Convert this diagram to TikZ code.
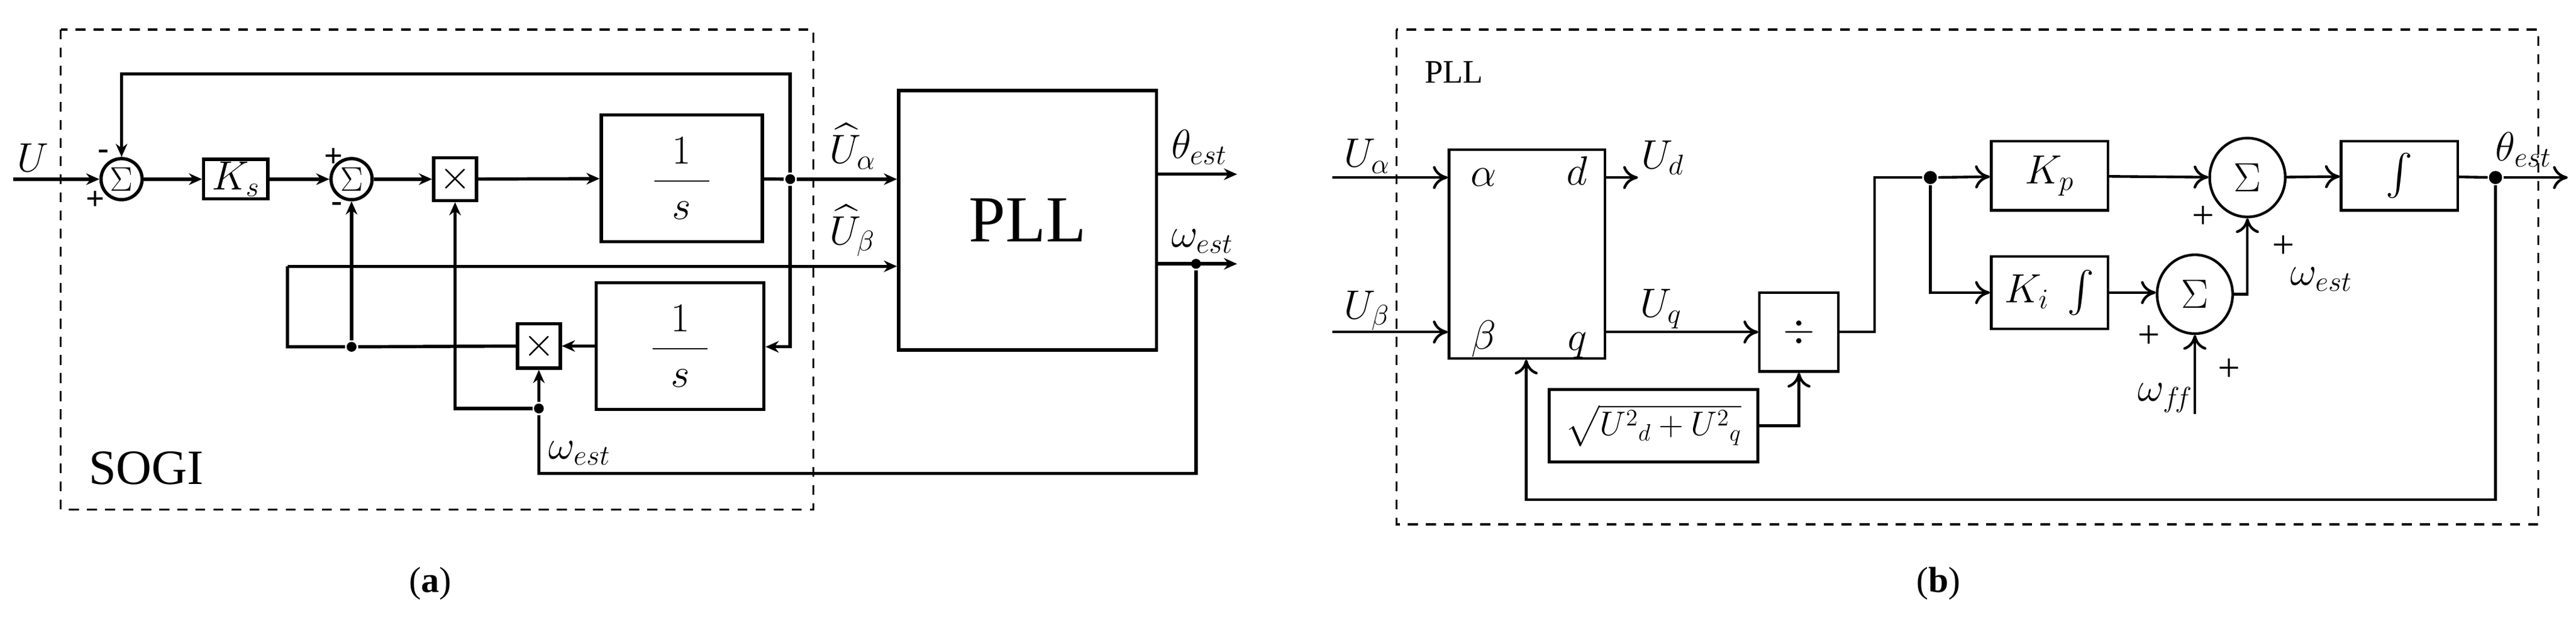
\documentclass[tikz,border=0pt]{standalone}
\usepackage{amsmath}
\usepackage{fontspec}
\setmainfont{Liberation Serif}
\usetikzlibrary{arrows.meta,shapes.geometric}
\tikzset{every picture/.style={line width=2pt}}
\tikzset{
  blk/.style={draw,rectangle,inner sep=0pt,minimum width=#1},
  sumL/.style={draw,circle,inner sep=0pt,minimum size=25pt,font=\fontsize{20}{20}\selectfont},
  sumR/.style={draw,ellipse,inner sep=0pt,minimum width=46pt,minimum height=48pt,font=\fontsize{34}{34}\selectfont},
  lbl/.style={inner sep=0pt,font=\fontsize{24}{28}\selectfont},
  sgn/.style={inner sep=0pt,font=\fontsize{20}{20}\selectfont\bfseries},
  dot/.style={circle,fill,inner sep=0pt,minimum size=6pt},
  fa/.style={-{Stealth[length=8pt,width=7pt]}},
  oa/.style={-{To[length=9pt,width=14pt,line width=1.6pt]}},
}
\begin{document}
\begin{tikzpicture}[x=1pt,y=1pt,yscale=-1,xscale=1]
    \useasboundingbox (0,0) rectangle (1568,383);

    %Shape: dashed frames
    \draw [dashed,line width=1.2pt,dash pattern=on 6pt off 5pt] (37,18) rectangle (495,310);
    \draw [dashed,line width=1.2pt,dash pattern=on 6pt off 5pt] (850,18) rectangle (1545,319);

    % ---------- (a) SOGI ----------
    \coordinate (uin) at (8,109);
    \node [sumL] (s1) at (74,109) {$\Sigma$};
    \node [blk=39pt,minimum height=24pt,lbl] (ks) at (143.5,109) {$K_s$};
    \node [sumL] (s2) at (214,109) {$\Sigma$};
    \node [blk=26pt,minimum height=26pt,font=\fontsize{24}{24}\selectfont] (m1) at (277,109) {$\times$};
    \node [blk=98pt,minimum height=77pt,lbl] (i1) at (415,108.5) {$\dfrac{1}{\;\,s\;\,}$};
    \node [blk=102pt,minimum height=77pt,lbl] (i2) at (414,210.5) {$\dfrac{1}{\;\,s\;\,}$};
    \node [blk=26pt,minimum height=27pt,font=\fontsize{24}{24}\selectfont] (m2) at (328,210.5) {$\times$};
    \node [blk=157pt,minimum height=158pt,font=\fontsize{40}{40}\selectfont] (pll) at (625.5,134) {PLL};
    \node [dot] (j1) at (481,109) {};
    \node [dot] (j2) at (214,211) {};
    \node [dot] (j3) at (328,248.5) {};
    \node [dot] (j4) at (728,160.5) {};
    \coordinate (th) at (753,106);
    \coordinate (om) at (753,160.5);

    %Straight Lines
    \draw [fa] (uin) -- (s1);
    \draw [fa] (s1) -- (ks);
    \draw [fa] (ks) -- (s2);
    \draw [fa] (s2) -- (m1);
    \draw [fa] (m1) -- (i1);
    \draw (i1) -- (j1);
    \draw [fa] (j1) -- (pll.west |- j1);
    \draw [fa] (j1) -- (481,45) -- (74,45) -- (s1.north);
    \draw [fa] (j1) -- (481,211) -- (i2.east |- 0,211);
    \draw [fa] (i2) -- (m2);
    \draw (m2) -- (j2) -- (175,211) -- (175,162);
    \draw [fa] (175,162) -- (pll.west |- 0,162);
    \draw [fa] (j2) -- (s2.south);
    \draw [fa] (j3) -- (277,248.5) -- (m1.south);
    \draw [fa] (j3) -- (m2.south);
    \draw (j3) -- (328,288) -- (728,288) -- (j4);
    \draw [fa] (pll.east |- th) -- (th);
    \draw [fa] (pll.east |- om) -- (om);

    % Text Node
    \node [lbl] at (20,96) {$U$};
    \node [sgn] at (63,94) {-};
    \node [sgn] at (58,122) {+};
    \node [sgn] at (203,96) {+};
    \node [sgn] at (205,126) {-};
    \node [lbl,anchor=south west] at (504,104) {$\widehat{U}_{\alpha}$};
    \node [lbl,anchor=south west] at (504,157) {$\widehat{U}_{\beta}$};
    \node [lbl,anchor=south west] at (712,101) {$\theta_{est}$};
    \node [lbl,anchor=south west] at (712,155) {$\omega_{est}$};
    \node [lbl,anchor=south west] at (333,284) {$\omega_{est}$};
    \node [inner sep=0pt,font=\fontsize{30}{30}\selectfont] at (89,285) {SOGI};

    % ---------- (b) PLL ----------
    \tikzset{every path/.style={line width=1.6pt}}
    \node [blk=95pt,minimum height=127pt] (park) at (929.5,154.5) {};
    \node [blk=48pt,minimum height=48pt] (div) at (1095,202) {};
    \node [blk=127pt,minimum height=44pt,font=\fontsize{22}{24}\selectfont] (sq) at (1006.5,259) {$\sqrt{U^2{}_d+U^2{}_q}$};
    \node [blk=71pt,minimum height=42pt,lbl] (kp) at (1247.5,107) {$K_p$};
    \node [blk=71pt,minimum height=44pt,lbl] (ki) at (1247.5,178) {$K_i\;\int$};
    \node [sumR] (s3) at (1368,108) {$\Sigma$};
    \node [sumR] (s4) at (1336,179) {$\Sigma$};
    \node [blk=71pt,minimum height=42pt,lbl] (int) at (1460.5,107) {$\int$};
    \node [dot,minimum size=8pt] (j5) at (1175,108) {};
    \node [dot,minimum size=8pt] (j6) at (1519,108) {};
    \coordinate (ua) at (811,108);
    \coordinate (ub) at (811,202);
    \coordinate (ud) at (997,108);
    \coordinate (th2) at (1563,108);
    \coordinate (wff) at (1336,252);

    %Straight Lines
    \draw [oa] (ua) -- (park.west |- ua);
    \draw [oa] (ub) -- (park.west |- ub);
    \draw [oa] (park.east |- ud) -- (ud);
    \draw [oa] (park.east |- div) -- (div);
    \draw [oa] (sq.east) -- (div.south |- sq.east) -- (div.south);
    \draw (div) -- (1141,202) -- (1141,108) -- (j5);
    \draw [oa] (j5) -- (kp);
    \draw [oa] (j5) -- (j5 |- ki) -- (ki);
    \draw [oa] (kp) -- (s3);
    \draw [oa] (ki) -- (s4.west |- ki);
    \draw [oa] (s4.east) -- (s3.south |- s4.east) -- (s3.south);
    \draw [oa] (wff) -- (s4.south);
    \draw [oa] (s3) -- (int);
    \draw (int) -- (j6);
    \draw [oa] (j6) -- (th2);
    \draw [oa] (j6) -- (1519,304) -- (929,304) -- (park.south -| 929,0);

    % Text Node
    \node [inner sep=0pt,font=\fontsize{20}{20}\selectfont] at (885,44) {PLL};
    \node [lbl] at (832,95) {$U_{\alpha}$};
    \node [lbl] at (832,189) {$U_{\beta}$};
    \node [inner sep=0pt,font=\fontsize{32}{32}\selectfont] at (903,108) {$\alpha$};
    \node [inner sep=0pt,font=\fontsize{32}{32}\selectfont] at (960,104) {$d$};
    \node [inner sep=0pt,font=\fontsize{32}{32}\selectfont] at (903,206) {$\beta$};
    \node [inner sep=0pt,font=\fontsize{32}{32}\selectfont] at (960,210) {$q$};
    \node [lbl] at (1012,96) {$U_d$};
    \node [lbl] at (1011,188) {$U_q$};
    \node [inner sep=0pt,font=\fontsize{30}{30}\selectfont] at (div) {$\div$};
    \node [sgn,font=\fontsize{24}{24}\selectfont] at (1341,132) {+};
    \node [sgn,font=\fontsize{24}{24}\selectfont] at (1390,150) {+};
    \node [sgn,font=\fontsize{24}{24}\selectfont] at (1308,205) {+};
    \node [sgn,font=\fontsize{24}{24}\selectfont] at (1357,225) {+};
    \node [lbl] at (1413,170) {$\omega_{est}$};
    \node [lbl] at (1318,242) {$\omega_{f\!f}$};
    \node [lbl] at (1536,91) {$\theta_{est}$};

    % captions
    \node [inner sep=0pt,font=\fontsize{22}{24}\selectfont] at (262,355) {(\textbf{a})};
    \node [inner sep=0pt,font=\fontsize{22}{24}\selectfont] at (1180,355) {(\textbf{b})};
\end{tikzpicture}
\end{document}
